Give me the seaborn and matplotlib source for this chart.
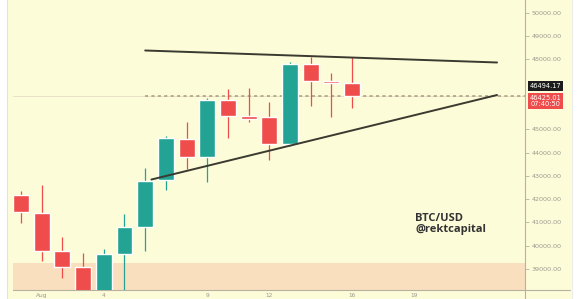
import matplotlib
matplotlib.use("Agg")
import matplotlib.pyplot as plt
import matplotlib.transforms as mtransforms
from matplotlib.patches import Rectangle
from matplotlib.lines import Line2D
import numpy as np
import pandas as pd
import seaborn as sns

# Daily BTC/USD candles, 31 Jul .. 16 Aug (day 0 = 31 Jul)
days = list(range(0, 17))
opens = [42176, 41416, 39773, 39086, 37900, 39644, 40816, 42820, 44579, 43807,
         46253, 45567, 45524, 44365, 47798, 47082, 46970]
highs = [42361, 42605, 40373, 39687, 39859, 41361, 43335, 44708, 45309, 46339,
         46725, 46768, 46167, 47884, 48112, 47412, 48099]
lows = [40987, 39356, 38614, 37500, 37400, 37950, 39786, 42391, 43292, 42734,
        44622, 45309, 43678, 44300, 46009, 45524, 45923]
closes = [41447, 39786, 39086, 37900, 39644, 40803, 42790, 44622, 43807, 46253,
          45567, 45451, 44365, 47798, 47082, 46970, 46425.01]

# Triangle trend lines
upper_line_x = [6.0, 23.0]
upper_line_y = [48378, 47863]
lower_line_x = [6.3, 23.0]
lower_line_y = [42840, 46468]

# Support zone
zone_low, zone_high = 30000, 39250

last_price = 46425.01
mark_price = 46494.17
last_time = "07:40:50"

x_ticks = [1, 4, 9, 12, 16, 19]
x_tick_labels = ["Aug", "4", "9", "12", "16", "19"]
y_ticks = [39000, 40000, 41000, 42000, 43000, 44000, 45000, 48000, 49000, 50000]

BG = "#fdfcd9"
ZONE = "#fadfbf"
UP = "#22a394"
DOWN = "#ef4c4c"
AXIS = "#b5b3a0"
TXT = "#9a9a90"

sns.set_theme(style="white")
plt.rcParams["font.family"] = ["DejaVu Sans"]

W, H = 583, 299
fig = plt.figure(figsize=(W / 100, H / 100), dpi=100, facecolor="white")
fig.patches.append(Rectangle((8 / W, 0), (572 - 8) / W, 1, transform=fig.transFigure,
                             facecolor=BG, edgecolor="none", zorder=-5))
fig.lines.append(Line2D([7 / W, 7 / W], [0, 1], transform=fig.transFigure, color="#e2e2e2",
                        lw=0.8, zorder=-4))
fig.lines.append(Line2D([572 / W, 572 / W], [0, 1], transform=fig.transFigure, color="#ececec",
                        lw=0.8, zorder=-4))

ax = fig.add_axes([13 / W, 9 / H, (525 - 13) / W, 290 / H])
ax.set_facecolor(BG)
ax.set_xlim(-0.386, 24.35)
ax.set_ylim(38099, 50545)

# support zone
ax.axhspan(zone_low, zone_high, color=ZONE, lw=0, zorder=1)

# candles
df = pd.DataFrame({"day": days, "open": opens, "high": highs, "low": lows, "close": closes})
colors = [UP if c >= o else DOWN for o, c in zip(df["open"], df["close"])]
ax.vlines(df["day"], df["low"], df["high"], colors=colors, lw=0.9, zorder=3)
ax.bar(df["day"], (df["close"] - df["open"]).abs(),
       bottom=df[["open", "close"]].min(axis=1), width=0.77, color=colors, zorder=4)

# last price lines
ax.axhline(last_price, color="#e4dcc4", lw=0.6, zorder=2)
ax.hlines(last_price, upper_line_x[0], 24.35, colors="#a89a7c", lw=1.1,
          linestyles=(0, (2, 2.2)), zorder=2)

# triangle
sns.lineplot(x=upper_line_x, y=upper_line_y, ax=ax, color="#3a3a30", lw=1.4, zorder=5)
sns.lineplot(x=lower_line_x, y=lower_line_y, ax=ax, color="#3a3a30", lw=1.4, zorder=5)

ax.text(19.05, 41420, "BTC/USD\n@rektcapital", family=["Open Sans", "DejaVu Sans"],
        fontweight="bold", fontsize=8, color="#333333", va="top", ha="left",
        linespacing=1.05, zorder=6)

# axes styling
for s in ["left", "top"]:
    ax.spines[s].set_visible(False)
ax.spines["bottom"].set_color(AXIS)
ax.spines["right"].set_color(AXIS)
ax.spines["bottom"].set_linewidth(0.8)
ax.spines["right"].set_linewidth(0.8)
fig.lines.append(Line2D([525 / W, 570 / W], [9 / H, 9 / H], transform=fig.transFigure, color=AXIS, lw=0.8))
fig.lines.append(Line2D([525 / W, 525 / W], [0, 9 / H], transform=fig.transFigure, color=AXIS, lw=0.8))

ax.yaxis.tick_right()
ax.set_yticks(y_ticks)
ax.set_yticklabels([f"{v:.2f}" for v in y_ticks])
ax.tick_params(axis="y", length=3, width=0.6, pad=2, labelsize=4.6, colors=AXIS, labelcolor=TXT)
ax.set_xticks(x_ticks)
ax.set_xticklabels(x_tick_labels)
ax.tick_params(axis="x", length=1.5, width=0.6, pad=0.6, labelsize=4.2, colors=AXIS, labelcolor=TXT)
ax.set_xlabel("")
ax.set_ylabel("")

# price tags on the scale
trans = mtransforms.blended_transform_factory(ax.transAxes, ax.transData)
ax.annotate(f"{mark_price:.2f}", xy=(1.0, mark_price), xycoords=trans,
            xytext=(20.5, 8), textcoords="offset pixels", ha="center", va="center",
            fontsize=4.8, color="white", annotation_clip=False,
            bbox=dict(boxstyle="square,pad=0.3", fc="#1c1c1c", ec="none"), zorder=8)
ax.annotate(f"{last_price:.2f}\n{last_time}", xy=(1.0, last_price), xycoords=trans,
            xytext=(20.5, -5), textcoords="offset pixels", ha="center", va="center",
            fontsize=4.8, color="white", linespacing=1.15, annotation_clip=False,
            bbox=dict(boxstyle="square,pad=0.3", fc=DOWN, ec="none"), zorder=8)

fig.savefig("out.png", dpi=100, facecolor=fig.get_facecolor())
